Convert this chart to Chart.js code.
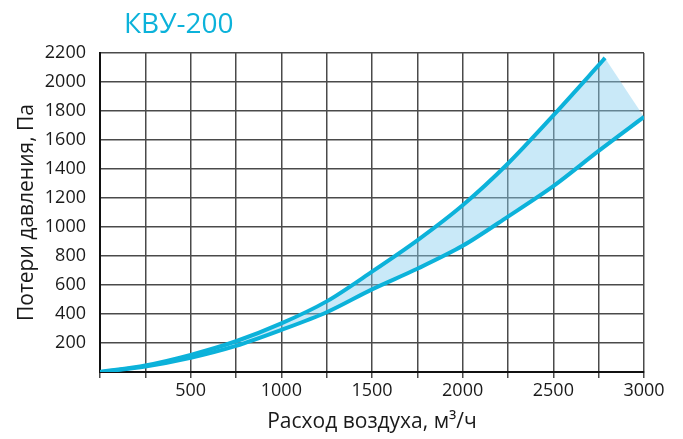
<!DOCTYPE html>
<html>
<head>
<meta charset="utf-8">
<script src="https://cdn.jsdelivr.net/npm/chart.js@4"></script>
<style>
  html, body { margin: 0; padding: 0; background: #fff; }
  #wrap { width: 683px; height: 439px; }
</style>
</head>
<body>
<div id="wrap"><canvas id="lossChart" width="683" height="439"></canvas></div>
<script>
// КВУ-200: pressure loss vs air flow, two bounding curves
const chartTitle = 'КВУ-200'
const flowUpper = [0, 250, 500, 750, 1000, 1250, 1500, 1750, 2000, 2250, 2500, 2750, 2785]
const lossUpper = [0, 45, 118, 212, 335, 487, 692, 908, 1150, 1438, 1770, 2116, 2166]
const flowLower = [0, 250, 500, 750, 1000, 1250, 1500, 1750, 2000, 2250, 2500, 2750, 3000]
const lossLower = [0, 38, 98, 180, 290, 412, 570, 712, 870, 1072, 1282, 1525, 1759]

const xTitle = 'Расход воздуха, м³/ч'
const yTitle = 'Потери давления, Па'

const lineColor = '#0cb2da'
const fillColor = 'rgba(135, 206, 240, 0.45)'
const gridColor = '#4a4a4a'
const textColor = '#1a1a1a'
const font = "'Open Sans', 'DejaVu Sans', sans-serif"

function toPoints(xs, ys) {
  let pts = []
  for (let i = 0; i < xs.length; i++) {
    pts.push({x: xs[i], y: ys[i]})
  }
  return pts
}

const upperPts = toPoints(flowUpper, lossUpper)
const lowerPts = toPoints(flowLower, lossLower)

// closed band: upper curve out, lower curve back.
// the end points are repeated so the closing edge stays straight with tension on
const upperEnd = upperPts[upperPts.length - 1]
const lowerEnd = lowerPts[lowerPts.length - 1]
const bandPts = upperPts.concat([upperEnd, lowerEnd], lowerPts.slice().reverse())

// title drawn in the top-left, like the original
const titlePlugin = {
  id: 'cornerTitle',
  afterDraw(chart) {
    const ctx = chart.ctx
    ctx.save()
    ctx.font = `28px ${font}`
    ctx.fillStyle = lineColor
    ctx.textBaseline = 'alphabetic'
    ctx.textAlign = 'left'
    ctx.fillText(chartTitle, 124, 33)
    ctx.restore()
  }
}

const config = {
  type: 'line',
  data: {
    datasets: [
      {
        label: 'band',
        data: bandPts,
        fill: 'shape',
        backgroundColor: fillColor,
        borderWidth: 0,
        pointRadius: 0,
        tension: 0.3,
        order: 3
      },
      {
        label: 'upper',
        data: upperPts,
        fill: false,
        borderColor: lineColor,
        borderWidth: 4,
        pointRadius: 0,
        tension: 0.3,
        order: 1
      },
      {
        label: 'lower',
        data: lowerPts,
        fill: false,
        borderColor: lineColor,
        borderWidth: 4,
        pointRadius: 0,
        tension: 0.3,
        order: 1
      }
    ]
  },
  options: {
    responsive: false,
    animation: false,
    layout: { padding: { top: 53, right: 39, left: 0, bottom: 0 } },
    plugins: {
      legend: { display: false },
      tooltip: { enabled: false }
    },
    scales: {
      x: {
        type: 'linear',
        min: 0,
        max: 3000,
        afterFit: function(scale) { scale.height = 67 },
        border: { color: '#111', width: 2 },
        grid: { color: gridColor, lineWidth: 1.5, drawTicks: true, tickLength: 6, tickColor: gridColor },
        ticks: {
          stepSize: 250,
          autoSkip: false,
          maxRotation: 0,
          padding: 2,
          color: textColor,
          font: { family: font, size: 18 },
          callback: function(value) {
            if (value === 0 || value % 500 !== 0) return ''
            return value
          }
        },
        title: {
          display: true,
          text: xTitle,
          color: textColor,
          font: { family: font, size: 21 },
          padding: { top: 8 }
        }
      },
      y: {
        min: 0,
        max: 2200,
        afterFit: function(scale) { scale.width = 100 },
        border: { color: '#111', width: 2 },
        grid: { color: gridColor, lineWidth: 1.5, drawTicks: false },
        ticks: {
          stepSize: 200,
          padding: 14,
          color: textColor,
          font: { family: font, size: 18 },
          callback: function(value) {
            if (value === 0) return ''
            return value
          }
        },
        title: {
          display: true,
          text: yTitle,
          color: textColor,
          font: { family: font, size: 21 },
          padding: { top: 14, bottom: 0 }
        }
      }
    }
  },
  plugins: [titlePlugin]
}

const lossChart = new Chart(document.getElementById('lossChart'), config)
</script>
</body>
</html>
